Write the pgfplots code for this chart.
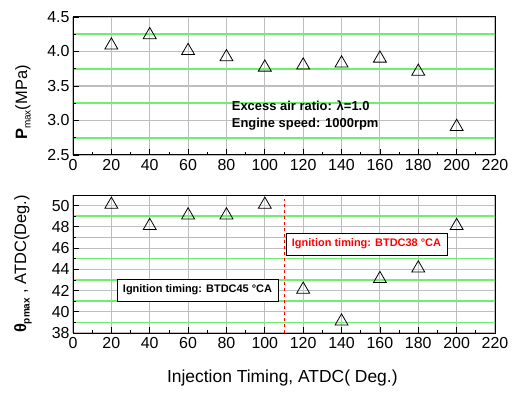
\documentclass[border=0pt]{standalone}
\usepackage{pgfplots}
\pgfplotsset{compat=1.18}
\usepackage{fontspec}
\setmainfont{Liberation Sans}
\definecolor{gline}{RGB}{110,240,110}
\definecolor{ggray}{RGB}{190,190,190}
\pgfplotsset{
  myax/.style={
    scale only axis, width=422bp, height=138bp,
    xmin=0, xmax=220, xtick={0,20,...,220}, minor xtick={10,30,...,210},
    tick align=inside, tick pos=left,
    major tick length=6bp, minor tick length=3bp,
    every tick/.style={black, line width=0.8pt},
    axis line style={line width=1pt},
    xmajorgrids, ymajorgrids, yminorgrids,
    major grid style={ggray, line width=1.1pt},
    minor grid style={gline, line width=1.6pt},
    /pgf/number format/assume math mode=true,
    tick label style={font=\fontsize{16}{18}\selectfont},
    label style={font=\fontsize{16.5}{19}\selectfont},
    xticklabel style={yshift=-1pt},
  },
  tri/.style={only marks, mark=triangle, mark size=7.5pt, mark options={black, fill=white, line width=0.8pt}},
}
\begin{document}
\begin{tikzpicture}
\useasboundingbox (-73bp,-60bp) rectangle (441bp,333bp);
% bottom axis
\begin{axis}[myax, at={(0,0)}, anchor=south west,
  ymin=38, ymax=51, ytick={38,40,42,44,46,48,50}, minor ytick={39,41,43,45,47,49},
  yticklabel style={/pgf/number format/fixed},
  ylabel={\textbf{θ}\raisebox{-0.4ex}{\fontsize{10}{11}\selectfont\textbf{pmax}} , ATDC(Deg.)},
  ylabel style={at={(axis description cs:-0.1185,0.5)}, anchor=center},
  xlabel={Injection Timing, ATDC( Deg.)},
  xlabel style={at={(axis description cs:0.496,0)}, yshift=-45bp, anchor=center, font=\fontsize{17.5}{20}\selectfont},
]
\addplot[tri] coordinates {(20,50.1) (40,48.1) (60,49.1) (80,49.1) (100,50.1) (120,42.1) (140,39.1) (160,43.1) (180,44.1) (200,48.1)};
\addplot[red, dashed, line width=0.7pt] coordinates {(110,38) (110,51)};
\node[draw=black, line width=0.8pt, fill=white, font=\fontsize{11}{13}\selectfont\bfseries, anchor=center, inner sep=2pt, minimum height=22bp, minimum width=161bp] at (axis cs:64.9,42.05) {Ignition timing: BTDC45 °CA};
\node[draw=black, line width=0.8pt, fill=white, text=red, font=\fontsize{11}{13}\selectfont\bfseries, anchor=center, inner sep=2pt, minimum height=22bp, minimum width=161bp] at (axis cs:153,46.38) {Ignition timing: BTDC38 °CA};
\end{axis}
% top axis
\begin{axis}[myax, at={(0,178bp)}, anchor=south west,
  ymin=2.5, ymax=4.5, ytick={2.5,3.0,3.5,4.0,4.5}, minor ytick={2.75,3.25,3.75,4.25},
  yticklabel style={/pgf/number format/.cd, fixed, fixed zerofill, precision=1},
  ylabel={\textbf{P}\raisebox{-0.4ex}{\fontsize{10}{11}\selectfont max}(MPa)},
  ylabel style={at={(axis description cs:-0.1185,0.38)}, anchor=center},
]
\addplot[tri] coordinates {(20,4.09) (40,4.24) (60,4.01) (80,3.92) (100,3.77) (120,3.80) (140,3.83) (160,3.90) (180,3.71) (200,2.91)};
\node[anchor=west, font=\fontsize{13}{15}\selectfont\bfseries] at (axis cs:81,3.22) {Excess air ratio: λ=1.0};
\node[anchor=west, font=\fontsize{13}{15}\selectfont\bfseries] at (axis cs:81,2.95) {Engine speed: 1000rpm};
\end{axis}
\end{tikzpicture}
\end{document}
